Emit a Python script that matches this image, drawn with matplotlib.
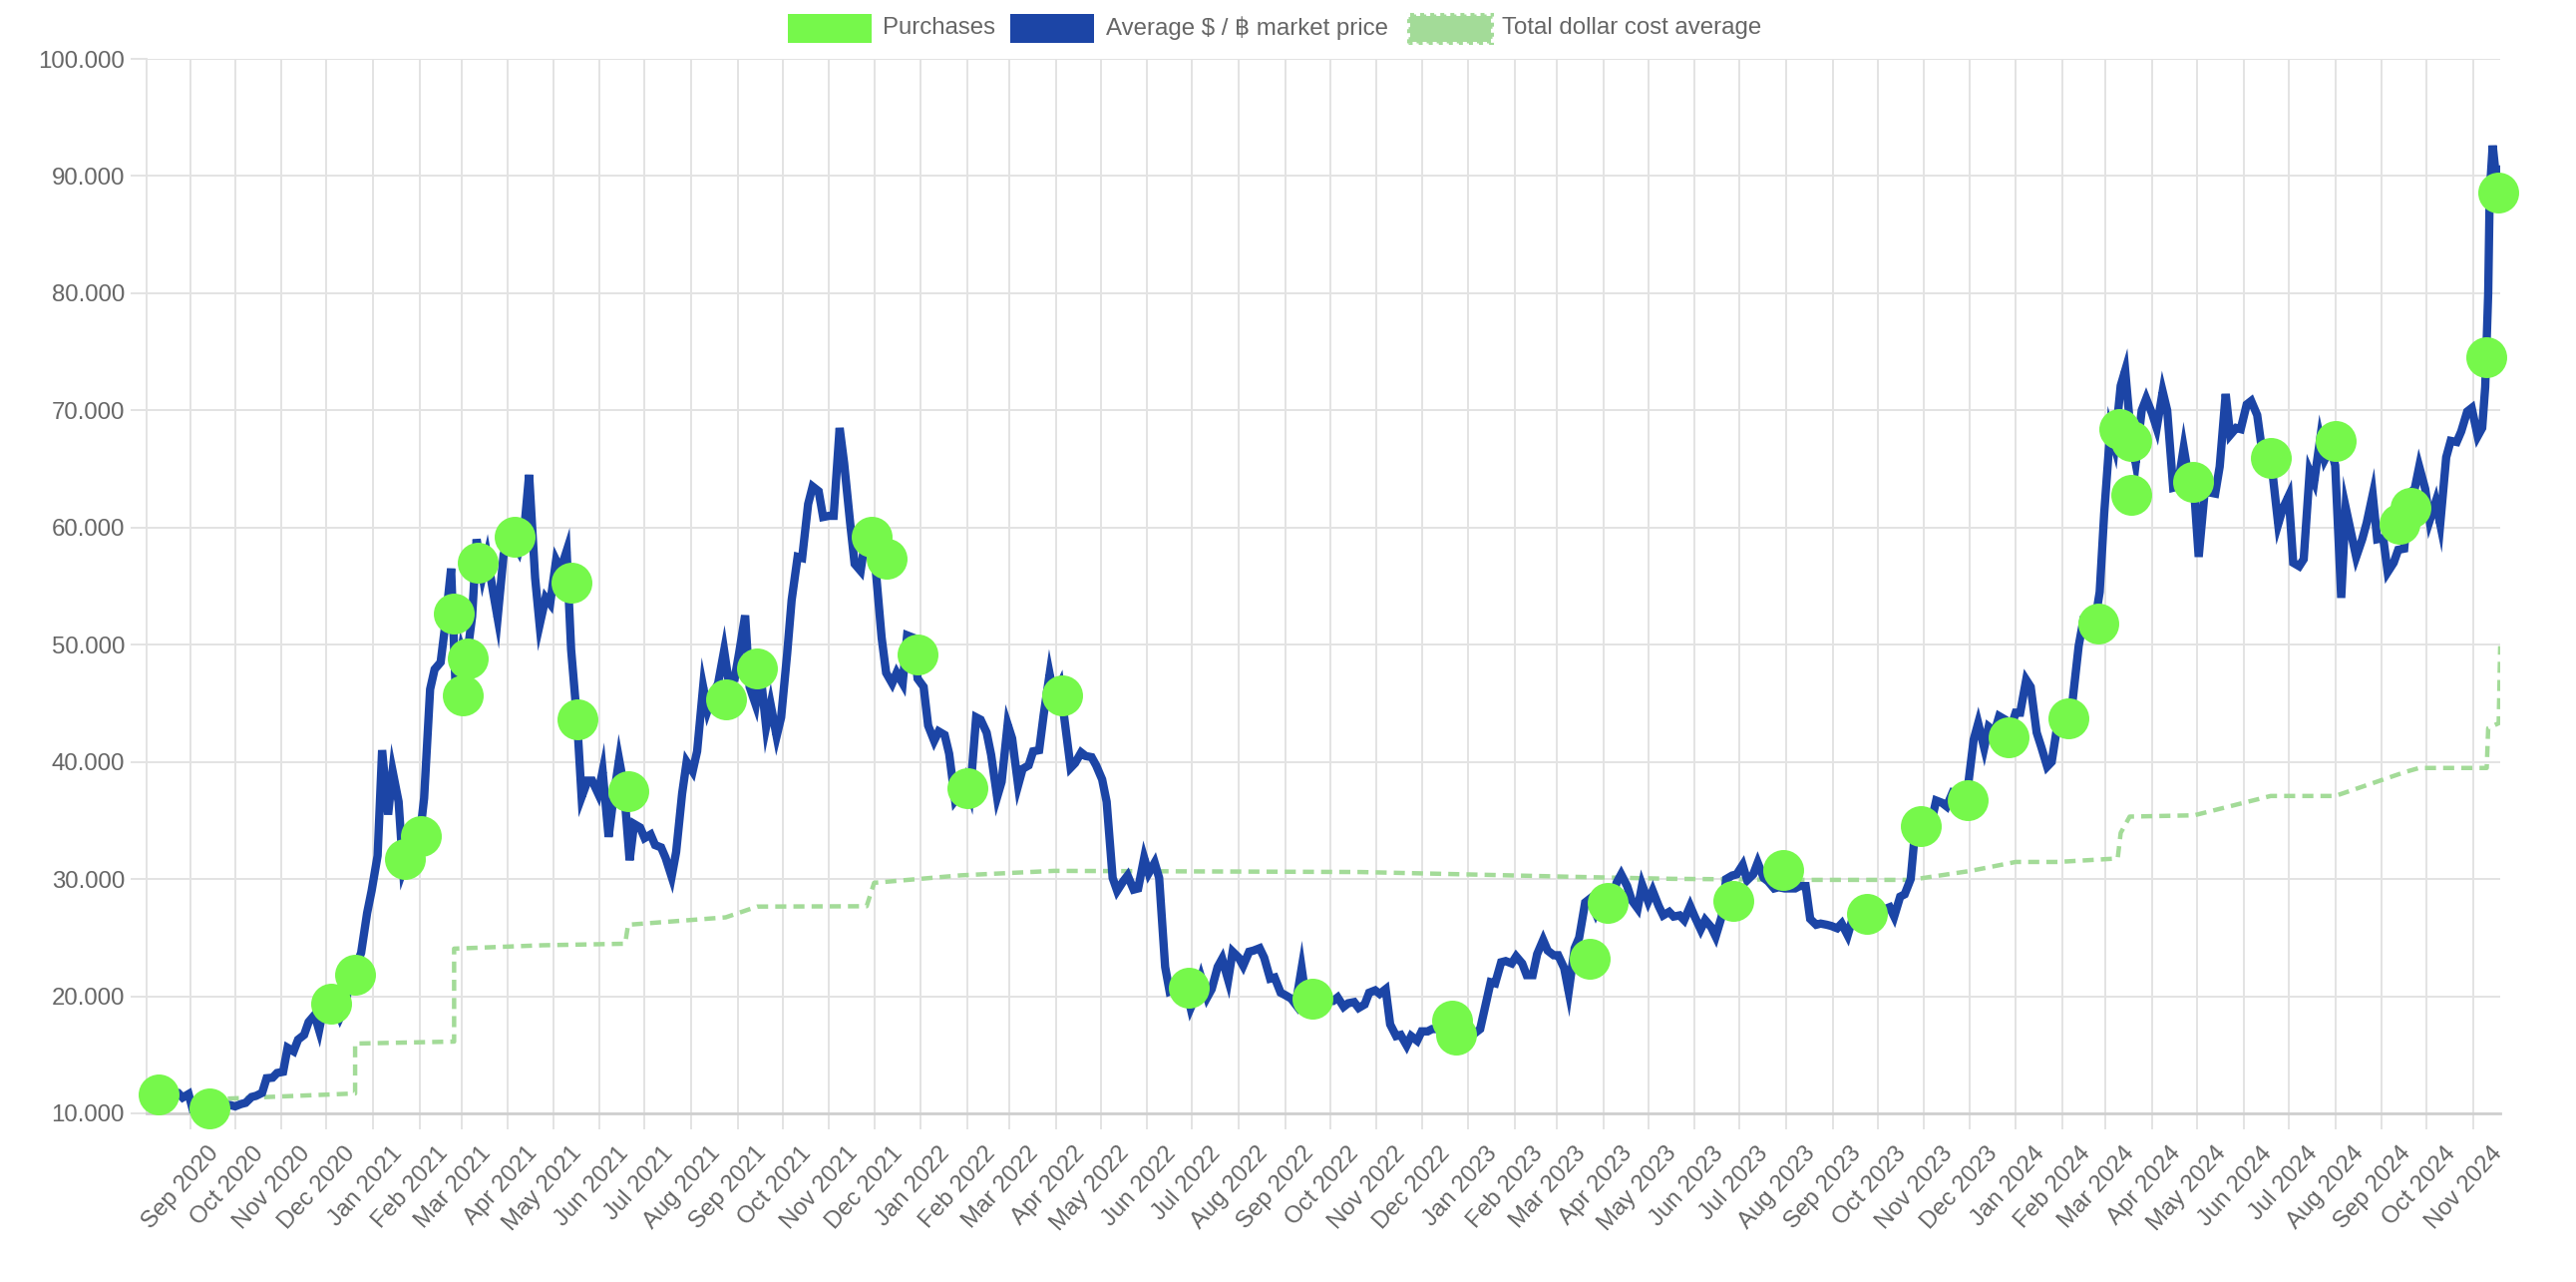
import matplotlib
matplotlib.use("Agg")
import matplotlib.pyplot as plt
import matplotlib.dates as mdates
import matplotlib.transforms as mtransforms
from matplotlib.patches import Rectangle
import pandas as pd

plt.rcParams['font.family'] = ['Liberation Sans', 'DejaVu Sans']

# market price in thousand $ (Monday, Thursday)
price_start = '2020-08-03'
price_2020 = [11.2, 11.75, 11.9, 11.75, 12.25, 11.85, 11.75, 11.35, 11.65, 10.2, 10.15, 10.35,
              10.7, 10.95, 10.45, 10.75, 10.7, 10.6, 10.8, 10.9, 11.4, 11.5, 11.75, 13.0,
              13.05, 13.45, 13.55, 15.6, 15.3, 16.3, 16.7, 17.8, 18.4, 17.1, 19.7, 19.4,
              19.2, 18.2, 19.3, 22.8, 22.7, 23.7, 27.1, 29.0]
price_2021 = [32.0, 41.0, 35.5, 39.2, 36.6, 30.8, 32.3, 33.4, 33.5, 36.9, 46.2, 47.9,
              48.5, 51.6, 56.5, 46.3, 49.6, 48.4, 52.4, 59.0, 55.9, 57.6, 54.5, 52.3,
              57.7, 58.9, 58.7, 58.0, 60.2, 64.5, 55.7, 51.7, 54.0, 53.5, 57.2, 56.4,
              58.0, 49.6, 43.5, 37.0, 38.4, 38.4, 37.3, 39.2, 33.6, 36.7, 40.2, 38.1,
              31.6, 34.7, 34.4, 33.5, 33.8, 32.9, 32.7, 31.8, 30.2, 32.3, 37.3, 40.0,
              39.2, 40.9, 46.4, 44.4, 45.9, 46.7, 49.5, 46.9, 47.1, 49.3, 52.5, 46.4,
              44.9, 47.8, 43.0, 44.9, 42.2, 43.8, 49.2, 53.8, 57.5, 57.4, 62.0, 63.5,
              63.1, 60.9, 61.0, 61.0, 68.5, 65.5, 60.4, 56.9, 56.3, 58.9, 57.8, 56.5,
              50.6, 47.6, 46.7, 47.6, 46.7, 50.8, 50.6, 47.1]
price_2022 = [46.4, 43.1, 41.8, 42.6, 42.3, 40.7, 36.7, 37.2, 38.5, 37.3, 43.8, 43.6,
              42.5, 40.6, 37.0, 38.3, 43.2, 42.0, 38.0, 39.4, 39.7, 40.9, 41.0, 44.0,
              47.5, 45.5, 46.6, 43.5, 39.5, 39.9, 40.8, 40.5, 40.4, 39.7, 38.5, 36.6,
              30.1, 29.0, 29.8, 30.3, 29.1, 29.2, 31.8, 30.5, 31.4, 30.1, 22.5, 20.4,
              20.6, 21.1, 20.7, 19.0, 20.2, 21.6, 19.9, 20.6, 22.5, 23.2, 21.4, 23.8,
              23.3, 22.6, 23.8, 23.9, 24.1, 23.3, 21.5, 21.6, 20.3, 20.1, 19.8, 19.3,
              22.4, 19.7, 19.5, 19.4, 19.2, 19.6, 19.6, 19.9, 19.1, 19.4, 19.5, 19.0,
              19.3, 20.3, 20.5, 20.2, 20.6, 17.6, 16.6, 16.7, 15.8, 16.6, 16.2, 17.0,
              17.0, 17.2, 17.2, 17.4, 16.8, 16.8, 16.9, 16.6]
price_2023 = [16.7, 16.8, 17.2, 18.9, 21.2, 21.1, 22.9, 23.0, 22.8, 23.4, 22.8, 21.8,
              21.8, 23.6, 24.8, 23.9, 23.5, 23.5, 22.4, 20.4, 24.1, 25.0, 28.0, 28.3,
              27.1, 28.0, 27.8, 28.0, 29.7, 30.4, 29.4, 28.2, 27.5, 29.5, 28.1, 29.0,
              27.7, 26.9, 27.2, 26.8, 26.9, 26.5, 27.7, 26.8, 25.7, 26.5, 25.9, 25.1,
              26.8, 30.0, 30.3, 30.4, 31.2, 29.9, 30.4, 31.4, 30.1, 29.8, 29.2, 29.3,
              29.2, 29.2, 29.2, 29.4, 29.4, 26.6, 26.1, 26.2, 26.1, 26.0, 25.8, 26.2,
              25.2, 26.5, 26.8, 26.6, 26.3, 27.0, 27.5, 27.4, 27.6, 26.8, 28.5, 28.7,
              30.0, 34.2, 34.6, 34.9, 35.0, 36.7, 36.5, 36.2, 37.4, 37.3, 37.2, 37.7,
              41.9, 43.3, 41.2, 43.0, 42.6, 43.9, 43.6, 42.6]
price_2024 = [44.2, 44.2, 47.0, 46.4, 42.5, 41.3, 39.6, 40.0, 43.3, 43.1, 42.7, 45.3,
              49.9, 52.0, 51.8, 51.3, 54.5, 61.2, 68.3, 66.9, 72.1, 73.4, 67.6, 65.5,
              70.0, 71.0, 69.7, 68.5, 71.6, 70.0, 63.4, 63.5, 66.8, 64.5, 63.1, 57.5,
              63.1, 63.0, 62.9, 65.2, 71.4, 67.9, 68.5, 68.4, 70.5, 70.8, 69.6, 66.8,
              66.5, 64.9, 60.3, 61.6, 62.7, 57.0, 56.7, 57.3, 64.8, 63.9, 67.6, 65.8,
              66.8, 65.3, 54.0, 61.7, 59.3, 57.5, 59.0, 60.4, 62.8, 59.0, 59.1, 56.2,
              57.0, 58.1, 58.2, 62.9, 63.3, 65.2, 63.3, 60.6, 62.2, 60.3, 66.0, 67.4,
              67.3, 68.2, 69.9, 70.2, 67.8]
price_tail_dates = ['2024-11-07', '2024-11-09', '2024-11-11', '2024-11-12', '2024-11-14',
                    '2024-11-16', '2024-11-19']
price_tail = [68.5, 72.0, 80.0, 88.5, 92.6, 90.2, 90.5]

purchase_dates = ['2020-08-11', '2020-09-14', '2020-12-04', '2020-12-20', '2021-01-22',
                  '2021-02-02', '2021-02-24', '2021-03-05', '2021-03-02', '2021-03-12',
                  '2021-04-05', '2021-05-13', '2021-05-17', '2021-06-20', '2021-08-24',
                  '2021-09-14', '2021-11-29', '2021-12-09', '2021-12-30', '2022-02-01',
                  '2022-04-05', '2022-06-29', '2022-09-19', '2022-12-21', '2022-12-24',
                  '2023-03-23', '2023-04-04', '2023-06-27', '2023-07-30', '2023-09-24',
                  '2023-10-30', '2023-11-30', '2023-12-27', '2024-02-05', '2024-02-25',
                  '2024-03-10', '2024-03-18', '2024-03-18', '2024-04-28', '2024-06-19',
                  '2024-08-01', '2024-09-13', '2024-09-20', '2024-11-10', '2024-11-18']
purchase_prices = [11640, 10430, 19400, 21800, 31700, 33700, 52700, 48800, 45700, 57000,
                   59200, 55300, 43600, 37500, 45300, 48000, 59200, 57300, 49200, 37800,
                   45700, 20700, 19800, 17900, 16700, 23200, 28000, 28100, 30800, 27000,
                   34500, 36750, 42100, 43700, 51800, 68400, 67400, 62800, 63900, 65900,
                   67400, 60300, 61700, 74500, 88600]

dca_dates = ['2020-09-14', '2020-12-20', '2020-12-20', '2021-02-24', '2021-02-24',
             '2021-04-24', '2021-06-18', '2021-06-20', '2021-08-24', '2021-09-14',
             '2021-11-26', '2021-12-01', '2022-01-28', '2022-03-31', '2022-10-21',
             '2023-01-03', '2023-03-12', '2023-05-17', '2023-08-14', '2023-10-23',
             '2023-12-02', '2024-01-01', '2024-01-29', '2024-03-09', '2024-03-11',
             '2024-03-17', '2024-04-29', '2024-06-19', '2024-08-01', '2024-09-17',
             '2024-09-26', '2024-11-10', '2024-11-11', '2024-11-18', '2024-11-19']
dca_values = [11200, 11700, 15960, 16130, 24060, 24350, 24480, 26100, 26730, 27650,
              27680, 29680, 30320, 30700, 30600, 30390, 30190, 30020, 29930, 29930,
              30700, 31460, 31460, 31760, 33940, 35330, 35440, 37090, 37090, 39150,
              39480, 39480, 42880, 43300, 49880]

y_ticks = list(range(10000, 100001, 10000))
legend_labels = ['Purchases', 'Average $ / ฿ market price', 'Total dollar cost average']

BLUE = '#1C45A6'
GREEN = '#76F84B'
LIGHT_GREEN = '#A3DB98'
GRID = '#E3E3E3'
TEXT = '#666666'

W, H, DPI = 2583, 1285, 100
fig = plt.figure(figsize=(W / DPI, H / DPI), dpi=DPI, facecolor='white')
ax = fig.add_axes([147 / W, 1 - 1116 / H, (2507 - 147) / W, (1116 - 59) / H])

# Monday / Thursday sampling dates
k_values = price_2020 + price_2021 + price_2022 + price_2023 + price_2024
mondays = pd.date_range(price_start, periods=(len(k_values) + 1) // 2, freq='7D')
sample_dates = []
for d in mondays:
    sample_dates += [d, d + pd.Timedelta(days=3)]
dates = sample_dates[:len(k_values)] + list(pd.to_datetime(price_tail_dates))
prices = [v * 1000 for v in k_values + price_tail]

# dataset order like the original: dca at the back, purchases on top
ax.plot(pd.to_datetime(dca_dates), dca_values, color=LIGHT_GREEN, lw=3.2, ls=(0, (2.5, 1.6)), zorder=2)
ax.plot(dates, prices, color=BLUE, lw=6, zorder=3, solid_joinstyle='miter')
ax.scatter(pd.to_datetime(purchase_dates), purchase_prices, s=29.5 ** 2, color=GREEN,
           linewidths=0, zorder=4, clip_on=False)

ax.set_xlim(dates[0], dates[-1])
ax.set_ylim(10000, 100000)
ax.set_yticks(y_ticks)
ax.set_yticklabels([f"{v:,}".replace(',', '.') for v in y_ticks])
ax.xaxis.set_major_locator(mdates.MonthLocator())
ax.xaxis.set_major_formatter(mdates.DateFormatter('%b %Y'))

ax.grid(True, color=GRID, lw=1.44)
ax.set_axisbelow(True)
ax.tick_params(axis='both', length=11.5, width=1.44, color=GRID, labelcolor=TEXT, labelsize=17.3)
ax.tick_params(axis='y', pad=4.3)
ax.tick_params(axis='x', pad=9.4)
for s in ['top', 'right']:
    ax.spines[s].set_visible(False)
ax.spines['left'].set_color(GRID)
ax.spines['left'].set_linewidth(1.44)
ax.spines['bottom'].set_color('#CFCFCF')
ax.spines['bottom'].set_linewidth(2)

shift = mtransforms.ScaledTranslation(17 / DPI, 0, fig.dpi_scale_trans)
for lbl in ax.get_xticklabels():
    lbl.set_rotation(48)
    lbl.set_ha('right')
    lbl.set_va('top')
    lbl.set_rotation_mode('anchor')
    lbl.set_transform(lbl.get_transform() + shift)

# legend drawn by hand at the top centre
box_x = [790, 1013, 1412]
text_x = [885, 1109, 1506]
box_w, box_h, box_top, mid_y = 84, 29, 14, 28
for i, lab in enumerate(legend_labels):
    if i == 2:
        rect = Rectangle((box_x[i] / W, 1 - (box_top + box_h) / H), box_w / W, box_h / H,
                         transform=fig.transFigure, facecolor=LIGHT_GREEN, edgecolor=LIGHT_GREEN,
                         lw=2.2, ls=(0, (2, 1.3)))
        rect_line = Rectangle((box_x[i] / W, 1 - (box_top + box_h) / H), box_w / W, box_h / H,
                              transform=fig.transFigure, fill=False, edgecolor='white',
                              lw=2.2, ls=(2, (1.3, 2)))
        fig.add_artist(rect)
        fig.add_artist(rect_line)
    else:
        color = GREEN if i == 0 else BLUE
        fig.add_artist(Rectangle((box_x[i] / W, 1 - (box_top + box_h) / H), box_w / W, box_h / H,
                                 transform=fig.transFigure, facecolor=color, edgecolor='none'))
    fig.text(text_x[i] / W, 1 - mid_y / H, lab, ha='left', va='center', fontsize=17.3,
             color=TEXT, parse_math=False)

fig.savefig('out.png', dpi=DPI, facecolor='white')
